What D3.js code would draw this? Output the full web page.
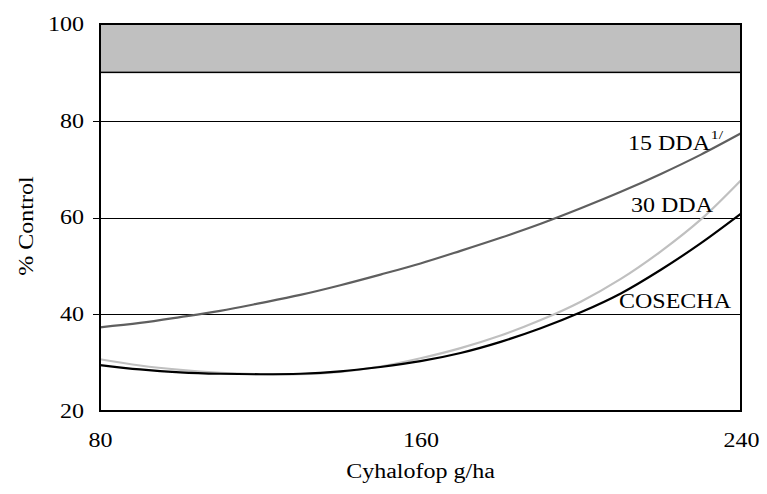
<!DOCTYPE html>
<html>
<head>
<meta charset="utf-8">
<script src="https://cdn.jsdelivr.net/npm/d3@7"></script>
<style>
  html, body { margin: 0; padding: 0; background: #fff; }
  svg { display: block; }
  svg text { font-family: "Liberation Serif", "Times New Roman", "DejaVu Serif", serif; fill: #000; }
</style>
</head>
<body>
<svg id="chart" width="767" height="494"></svg>
<script>
// Dose of Cyhalofop (g/ha)
const doses = [80, 90, 100, 110, 120, 130, 140, 150, 160, 170, 180, 190, 200, 210, 220, 230, 240];

// % control by evaluation date
const dda15   = [37.3, 38.2, 39.4, 40.7, 42.3, 44.0, 46.0, 48.2, 50.5, 53.1, 55.8, 58.7, 61.9, 65.3, 69.0, 73.0, 77.4];
const dda30   = [30.7, 29.4, 28.5, 27.9, 27.6, 27.6, 28.1, 29.2, 30.9, 33.0, 35.6, 38.8, 42.6, 47.3, 53.0, 59.6, 67.7];
const cosecha = [29.5, 28.6, 28.0, 27.7, 27.6, 27.7, 28.2, 29.1, 30.3, 32.0, 34.3, 37.1, 40.4, 44.3, 49.2, 54.7, 60.8];

const xTicks = [80, 160, 240];
const yTicks = [20, 40, 60, 80, 100];
const gridValues = [40, 60, 80];
const band = [90, 100];

const series = [
  { name: "15 DDA",  values: dda15,   color: "#5f5f5f" },
  { name: "30 DDA",  values: dda30,   color: "#c0c0c0" },
  { name: "COSECHA", values: cosecha, color: "#000000" }
];

const svg = d3.select("#chart");
const m = { left: 100, right: 741, top: 24, bottom: 411 };
const fontSize = 20;
const widen = 1.2; // lettering is set wide

const x = d3.scaleLinear().domain([80, 240]).range([m.left, m.right]);
const y = d3.scaleLinear().domain([20, 100]).range([m.bottom, m.top]);

// shaded band at the top of the scale
svg.append("rect")
  .attr("x", x(80)).attr("y", y(band[1]))
  .attr("width", x(240) - x(80)).attr("height", y(band[0]) - y(band[1]))
  .attr("fill", "#c0c0c0")
  .attr("stroke", "#000").attr("stroke-width", 1.5);

// horizontal gridlines with short outward ticks
svg.append("g").selectAll("line")
  .data(gridValues).join("line")
  .attr("x1", m.left - 7).attr("x2", m.right)
  .attr("y1", d => Math.round(y(d)) + 0.5).attr("y2", d => Math.round(y(d)) + 0.5)
  .attr("stroke", "#000").attr("stroke-width", 1);

// curves
const line = d3.line()
  .x((d, i) => x(doses[i]))
  .y(d => y(d))
  .curve(d3.curveCatmullRom.alpha(0.5));

const plot = svg.append("g");
series.forEach(s => {
  plot.append("path")
    .datum(s.values)
    .attr("d", line)
    .attr("fill", "none")
    .attr("stroke", s.color)
    .attr("stroke-width", 2.2);
});

// frame
svg.append("rect")
  .attr("x", m.left).attr("y", m.top)
  .attr("width", m.right - m.left).attr("height", m.bottom - m.top)
  .attr("fill", "none").attr("stroke", "#000").attr("stroke-width", 2);

// y axis labels
const yAxis = d3.axisLeft(y).tickValues(yTicks).tickSize(0).tickPadding(16).tickFormat(d3.format("d"));
svg.append("g")
  .attr("transform", `translate(${m.left},0)`)
  .call(yAxis)
  .call(g => g.select(".domain").remove())
  .call(g => g.attr("font-family", null).attr("font-size", fontSize));

// x axis labels
const xAxis = d3.axisBottom(x).tickValues(xTicks).tickSize(0).tickPadding(22).tickFormat(d3.format("d"));
svg.append("g")
  .attr("transform", `translate(0,${m.bottom})`)
  .call(xAxis)
  .call(g => g.select(".domain").remove())
  .call(g => g.attr("font-family", null).attr("font-size", fontSize));

// axis titles
svg.append("text")
  .attr("x", (m.left + m.right) / 2).attr("y", 478)
  .attr("text-anchor", "middle").attr("font-size", fontSize)
  .text("Cyhalofop g/ha");

svg.append("text")
  .attr("transform", "translate(33,226) rotate(-90)")
  .attr("text-anchor", "middle").attr("font-size", fontSize)
  .text("% Control");

// series labels
const lab = svg.append("g").attr("font-size", fontSize).attr("text-anchor", "end");
lab.append("text").attr("x", 710).attr("y", 150).text("15 DDA");
lab.append("text").attr("x", 723).attr("y", 139).attr("font-size", 13).text("1/");
lab.append("text").attr("x", 713).attr("y", 212).text("30 DDA");
lab.append("text").attr("x", 731).attr("y", 308).text("COSECHA");

// set all lettering slightly wider than the font's natural width
svg.selectAll("text").each(function() {
  const w = this.getComputedTextLength();
  if (w > 0) {
    d3.select(this)
      .attr("textLength", (w * widen).toFixed(1))
      .attr("lengthAdjust", "spacingAndGlyphs");
  }
});
</script>
</body>
</html>
